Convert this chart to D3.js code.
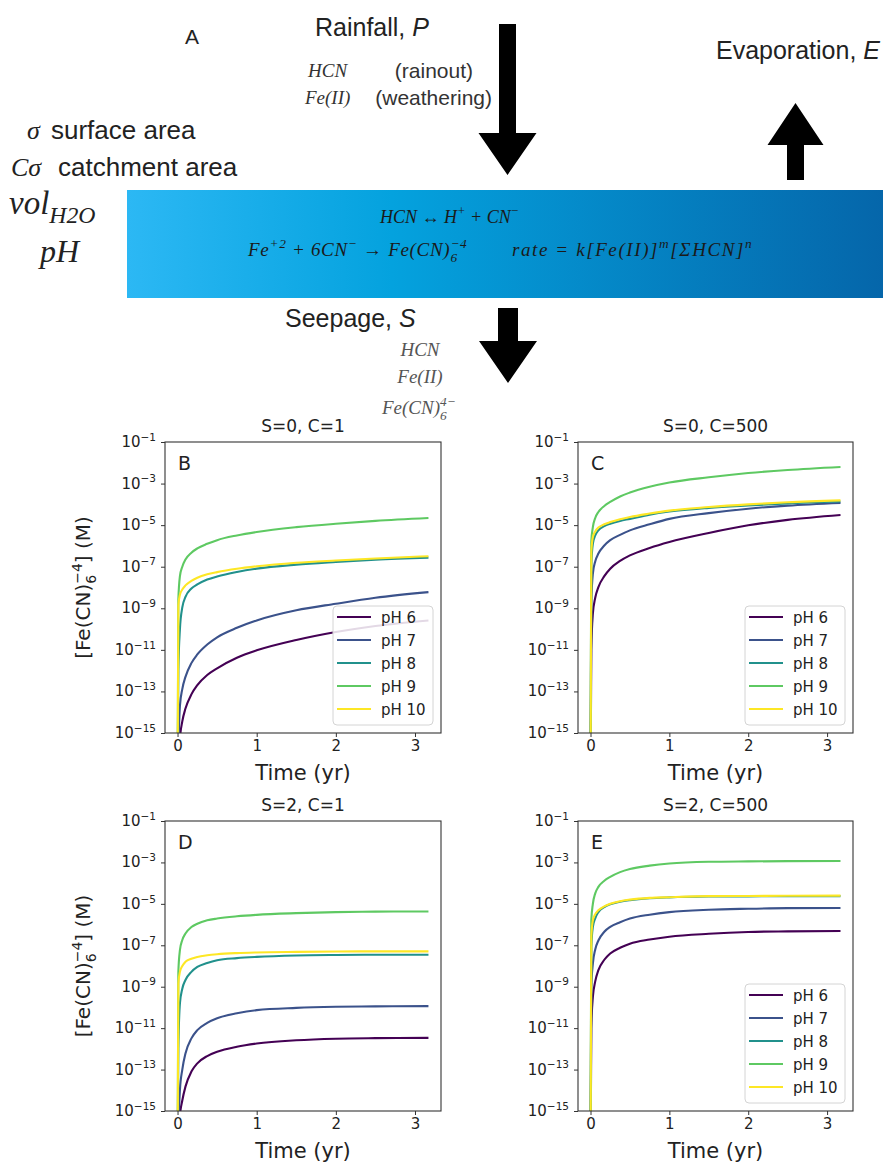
<!DOCTYPE html>
<html><head><meta charset="utf-8">
<script src="https://cdn.jsdelivr.net/npm/d3@7"></script>
<style>body{margin:0;background:#fff}</style>
</head><body>
<svg id="c" width="883" height="1163" xmlns="http://www.w3.org/2000/svg"></svg>
<script>
// ---------- data ----------
const times = [0, 0.01, 0.03, 0.06, 0.1, 0.175, 0.25, 0.375, 0.5, 0.75, 1, 1.5, 2, 2.5, 3.17];
const phLabels = ["pH 6", "pH 7", "pH 8", "pH 9", "pH 10"];
const phColors = ["#440154", "#3b528b", "#21918c", "#5ec962", "#fde725"];
const panelLetters = ["B", "C", "D", "E"];
const panelTitles = ["S=0, C=1", "S=0, C=500", "S=2, C=1", "S=2, C=500"];
const yTickExps = [-1, -3, -5, -7, -9, -11, -13, -15];
const xTicks = [0, 1, 2, 3];

// [Fe(CN)6^-4] (M) per pH (6,7,8,9,10), at the times above
const seriesB = [
  [1e-18, 1e-17, 5e-16, 3.6e-15, 1.5e-14, 7.2e-14, 2e-13, 6.2e-13, 1.3e-12, 4.2e-12, 9.5e-12, 3e-11, 7.2e-11, 1.4e-10, 2.6e-10],
  [1e-18, 1e-16, 2e-14, 1.3e-13, 5e-13, 2.3e-12, 6e-12, 1.8e-11, 4e-11, 1.15e-10, 2.6e-10, 8e-10, 1.65e-9, 3.2e-9, 6e-9],
  [1e-18, 1e-12, 1e-10, 1.1e-9, 3.5e-9, 9e-9, 1.4e-8, 2.4e-8, 3.4e-8, 5.6e-8, 8.1e-8, 1.26e-7, 1.7e-7, 2.2e-7, 2.75e-7],
  [1e-18, 2.5e-9, 3.5e-8, 1e-7, 2.2e-7, 4.7e-7, 7.6e-7, 1.26e-6, 1.9e-6, 3.2e-6, 4.7e-6, 8e-6, 1.17e-5, 1.6e-5, 2.2e-5],
  [1e-18, 1.4e-9, 4.5e-9, 8e-9, 1.26e-8, 2.1e-8, 2.95e-8, 4.3e-8, 5.5e-8, 8e-8, 1.05e-7, 1.55e-7, 2e-7, 2.5e-7, 3.2e-7]
];
const seriesC = [
  [1e-18, 1e-11, 5.5e-10, 3.2e-9, 1.05e-8, 3.5e-8, 8e-8, 1.9e-7, 3.5e-7, 8e-7, 1.55e-6, 4.2e-6, 9.8e-6, 1.8e-5, 3.1e-5],
  [1e-18, 2e-9, 4.7e-8, 1.8e-7, 4.3e-7, 1.05e-6, 1.9e-6, 3.4e-6, 5.6e-6, 1.1e-5, 2e-5, 3.8e-5, 6.2e-5, 8.7e-5, 1.17e-4],
  [1e-18, 1.26e-7, 1.3e-6, 3.2e-6, 5.6e-6, 8.9e-6, 1.17e-5, 1.6e-5, 2e-5, 3.2e-5, 4.5e-5, 6.8e-5, 8.9e-5, 1.12e-4, 1.38e-4],
  [1e-18, 1.6e-6, 8e-6, 2.2e-5, 4.3e-5, 8.3e-5, 1.3e-4, 2.4e-4, 3.7e-4, 7e-4, 1.12e-3, 2e-3, 3.2e-3, 4.5e-3, 6.3e-3],
  [1e-18, 5e-7, 2.7e-6, 5e-6, 7.6e-6, 1.1e-5, 1.4e-5, 1.9e-5, 2.45e-5, 3.6e-5, 5e-5, 7.4e-5, 1e-4, 1.26e-4, 1.55e-4]
];
const seriesD = [
  [1e-18, 1e-17, 6e-16, 3.2e-15, 1.5e-14, 8e-14, 2e-13, 4.5e-13, 7.2e-13, 1.26e-12, 1.8e-12, 2.6e-12, 3.1e-12, 3.3e-12, 3.4e-12],
  [1e-18, 1e-16, 1e-14, 1e-13, 6e-13, 3.2e-12, 8e-12, 1.8e-11, 3e-11, 5.2e-11, 7.4e-11, 9.5e-11, 1.07e-10, 1.12e-10, 1.15e-10],
  [1e-18, 1e-12, 1.55e-10, 8e-10, 2.1e-9, 5.2e-9, 9e-9, 1.4e-8, 1.9e-8, 2.4e-8, 2.75e-8, 3.2e-8, 3.4e-8, 3.5e-8, 3.5e-8],
  [1e-18, 5e-9, 5.8e-8, 1.8e-7, 3.7e-7, 7.6e-7, 1.1e-6, 1.6e-6, 1.95e-6, 2.5e-6, 2.95e-6, 3.55e-6, 4e-6, 4.2e-6, 4.3e-6],
  [1e-18, 1.4e-9, 5.2e-9, 1e-8, 1.6e-8, 2.25e-8, 2.75e-8, 3.3e-8, 3.7e-8, 4.2e-8, 4.5e-8, 4.8e-8, 5e-8, 5.1e-8, 5.1e-8]
];
const seriesE = [
  [1e-18, 1e-11, 3.2e-10, 1.8e-9, 6.3e-9, 2e-8, 4e-8, 7.6e-8, 1.2e-7, 1.9e-7, 2.6e-7, 3.6e-7, 4.4e-7, 4.7e-7, 4.9e-7],
  [1e-18, 1e-9, 1.3e-8, 6.3e-8, 1.7e-7, 4.5e-7, 7.8e-7, 1.3e-6, 1.95e-6, 3e-6, 4e-6, 5.2e-6, 5.8e-6, 6.2e-6, 6.3e-6],
  [1e-18, 8e-8, 7.8e-7, 2e-6, 4e-6, 7e-6, 9.5e-6, 1.26e-5, 1.5e-5, 1.85e-5, 2.05e-5, 2.25e-5, 2.3e-5, 2.35e-5, 2.35e-5],
  [1e-18, 1.6e-6, 1e-5, 3.2e-5, 6.6e-5, 1.3e-4, 2e-4, 3.4e-4, 4.8e-4, 7e-4, 8.9e-4, 1.07e-3, 1.12e-3, 1.15e-3, 1.17e-3],
  [1e-18, 2.5e-7, 1.6e-6, 3.2e-6, 4.9e-6, 7.6e-6, 1e-5, 1.35e-5, 1.6e-5, 1.95e-5, 2.1e-5, 2.35e-5, 2.4e-5, 2.45e-5, 2.5e-5]
];
const allSeries = [seriesB, seriesC, seriesD, seriesE];
const showLegend = [true, true, false, true];
const showYLabel = [true, false, true, false];

// ---------- helpers ----------
const svg = d3.select("#c");
const SANS = "Liberation Sans, Arial, sans-serif";
const SERIF = "Liberation Serif, Times New Roman, serif";
const MPL = "DejaVu Sans, sans-serif";

function rich(g, x, y, parts, o) {
  const size = o.size;
  const t = g.append("text").attr("x", x).attr("y", y)
    .attr("font-family", o.family).attr("font-size", size)
    .attr("font-style", o.italic ? "italic" : "normal")
    .attr("fill", o.fill || "#222")
    .attr("text-anchor", o.anchor || "start");
  if (o.transform) t.attr("transform", o.transform);
  if (o.letterSpacing) t.attr("letter-spacing", o.letterSpacing);
  let cur = 0;
  const fs = size * (o.scriptScale || 0.7);
  const subD = size * (o.subShift || 0.3);
  parts.forEach(p => {
    if (typeof p === "string") {
      t.append("tspan").attr("dy", -cur).text(p); cur = 0;
    } else if (p.sub !== undefined && p.sup !== undefined) {
      const s1 = t.append("tspan").attr("dy", subD - cur).attr("font-size", fs).text(p.sub); cur = subD;
      const w = s1.node().getComputedTextLength();
      const d2 = -size * 0.42;
      t.append("tspan").attr("dx", -w).attr("dy", d2 - cur).attr("font-size", fs).text(p.sup); cur = d2;
    } else if (p.sup !== undefined) {
      const d = -size * 0.42;
      t.append("tspan").attr("dy", d - cur).attr("font-size", fs).text(p.sup); cur = d;
    } else if (p.sub !== undefined) {
      t.append("tspan").attr("dy", subD - cur).attr("font-size", fs).text(p.sub); cur = subD;
    }
  });
  return t;
}
function label(g, x, y, size, parts, anchor, family) {
  const t = g.append("text").attr("x", x).attr("y", y).attr("font-family", family || SANS)
    .attr("font-size", size).attr("fill", "#222").attr("text-anchor", anchor || "start");
  parts.forEach(p => {
    const s = t.append("tspan").text(p.t);
    if (p.i) s.attr("font-style", "italic");
    if (p.f) s.attr("font-family", p.f);
  });
  return t;
}

// ---------- diagram (panel A) ----------
const defs = svg.append("defs");
const grad = defs.append("linearGradient").attr("id", "pond").attr("x1", "0").attr("x2", "1").attr("y1", "0").attr("y2", "0");
grad.append("stop").attr("offset", "0%").attr("stop-color", "#2cb8f4");
grad.append("stop").attr("offset", "35%").attr("stop-color", "#04a2de");
grad.append("stop").attr("offset", "100%").attr("stop-color", "#0566aa");

const A = svg.append("g");
A.append("rect").attr("x", 127).attr("y", 190).attr("width", 756).attr("height", 108).attr("fill", "url(#pond)");

A.append("text").attr("x", 192).attr("y", 44).attr("font-family", SANS).attr("font-size", 21).attr("text-anchor", "middle").attr("fill", "#222").text("A");

label(A, 315, 36, 25, [{t: "Rainfall, "}, {t: "P", i: true}]);
label(A, 880, 59, 25, [{t: "Evaporation, "}, {t: "E", i: true}], "end");
label(A, 285, 327, 25, [{t: "Seepage, "}, {t: "S", i: true}]);

A.append("text").attr("x", 308).attr("y", 77).attr("font-family", SERIF).attr("font-size", 19).attr("font-style", "italic").attr("fill", "#333").text("HCN");
A.append("text").attr("x", 305).attr("y", 104).attr("font-family", SERIF).attr("font-size", 19).attr("font-style", "italic").attr("fill", "#333").text("Fe(II)");
A.append("text").attr("x", 473).attr("y", 78).attr("font-family", SANS).attr("font-size", 21).attr("text-anchor", "end").attr("fill", "#333").text("(rainout)");
A.append("text").attr("x", 492).attr("y", 105).attr("font-family", SANS).attr("font-size", 21).attr("text-anchor", "end").attr("fill", "#333").text("(weathering)");

// sigma lines
A.append("text").attr("x", 27).attr("y", 139).attr("font-family", SERIF).attr("font-size", 26).attr("font-style", "italic").attr("fill", "#222").text("σ");
A.append("text").attr("x", 51).attr("y", 139).attr("font-family", SANS).attr("font-size", 26).attr("fill", "#222").text("surface area");
A.append("text").attr("x", 11).attr("y", 176).attr("font-family", SERIF).attr("font-size", 26).attr("font-style", "italic").attr("fill", "#222").text("Cσ");
A.append("text").attr("x", 58).attr("y", 176).attr("font-family", SANS).attr("font-size", 26).attr("fill", "#222").text("catchment area");

// vol / pH
rich(A, 9, 214, ["vol", {sub: "H2O"}], {size: 33, family: SERIF, italic: true, scriptScale: 0.72, subShift: 0.27});
A.append("text").attr("x", 40).attr("y", 262).attr("font-family", SERIF).attr("font-size", 32).attr("font-style", "italic").attr("fill", "#222").text("pH");

// equations
rich(A, 380, 223, ["HCN ↔ H", {sup: "+"}, " + CN", {sup: "−"}], {size: 18, family: SERIF, italic: true, fill: "#1a1a1a"});
rich(A, 248, 256, ["Fe", {sup: "+2"}, " + 6CN", {sup: "−"}, " → Fe(CN)", {sub: "6", sup: "−4"}], {size: 19, family: SERIF, italic: true, fill: "#1a1a1a", letterSpacing: 0.7});
rich(A, 512, 256, ["rate = k[Fe(II)]", {sup: "m"}, "[ΣHCN]", {sup: "n"}], {size: 19, family: SERIF, italic: true, fill: "#1a1a1a", letterSpacing: 1.6});

// seepage species
A.append("text").attr("x", 420).attr("y", 356).attr("font-family", SERIF).attr("font-size", 19).attr("font-style", "italic").attr("text-anchor", "middle").attr("fill", "#555").text("HCN");
A.append("text").attr("x", 420).attr("y", 383).attr("font-family", SERIF).attr("font-size", 19).attr("font-style", "italic").attr("text-anchor", "middle").attr("fill", "#555").text("Fe(II)");
rich(A, 382, 414, ["Fe(CN)", {sub: "6", sup: "4−"}], {size: 19, family: SERIF, italic: true, fill: "#555"});

// arrows
const arrowDown = (cx, y0, yb, yt, sw, hw) => `M${cx - sw / 2},${y0} L${cx + sw / 2},${y0} L${cx + sw / 2},${yb} L${cx + hw / 2},${yb} L${cx},${yt} L${cx - hw / 2},${yb} L${cx - sw / 2},${yb} Z`;
A.append("path").attr("d", arrowDown(507.5, 24, 133, 175, 17, 58)).attr("fill", "#000");
A.append("path").attr("d", arrowDown(508, 308, 341, 383, 20, 58)).attr("fill", "#000");
A.append("path").attr("d", arrowDown(795.5, 180, 145, 103, 17, 56)).attr("fill", "#000");

// ---------- plots ----------
const boxes = [
  {l: 165, r: 441, t: 442, b: 733},
  {l: 578, r: 853, t: 442, b: 733},
  {l: 165, r: 441, t: 821, b: 1111},
  {l: 578, r: 853, t: 821, b: 1111}
];
const tMax = d3.max(times);
const pad = tMax * 0.05;

allSeries.forEach((series, i) => {
  const bx = boxes[i];
  const g = svg.append("g");
  const x = d3.scaleLinear().domain([-pad, tMax + pad]).range([bx.l, bx.r]);
  const y = d3.scaleLog().domain([1e-15, 1e-1]).range([bx.b, bx.t]);

  defs.append("clipPath").attr("id", "clip" + i).append("rect")
    .attr("x", bx.l).attr("y", bx.t).attr("width", bx.r - bx.l).attr("height", bx.b - bx.t);

  const line = d3.line().x((d, k) => x(times[k])).y(d => y(d)).curve(d3.curveMonotoneX);
  const lg = g.append("g").attr("clip-path", `url(#clip${i})`);
  series.forEach((s, k) => {
    lg.append("path").attr("d", line(s)).attr("fill", "none")
      .attr("stroke", phColors[k]).attr("stroke-width", 2.1).attr("stroke-linejoin", "round");
  });

  // frame
  g.append("rect").attr("x", bx.l).attr("y", bx.t).attr("width", bx.r - bx.l).attr("height", bx.b - bx.t)
    .attr("fill", "none").attr("stroke", "#333").attr("stroke-width", 1.1);

  // x axis
  const xa = g.append("g").attr("transform", `translate(0,${bx.b})`)
    .call(d3.axisBottom(x).tickValues(xTicks).tickSize(4).tickPadding(3).tickFormat(d3.format("d")));
  xa.select(".domain").remove();
  xa.selectAll("line").attr("stroke", "#333");
  xa.selectAll("text").attr("font-family", MPL).attr("font-size", 15).attr("fill", "#222");

  // y axis
  const ya = g.append("g").attr("transform", `translate(${bx.l},0)`)
    .call(d3.axisLeft(y).tickValues(yTickExps.map(e => Math.pow(10, e))).tickSize(4).tickFormat(""));
  ya.select(".domain").remove();
  ya.selectAll("line").attr("stroke", "#333");
  yTickExps.forEach(e => {
    rich(g, bx.l - 9, y(Math.pow(10, e)) + 5, ["10", {sup: "−" + Math.abs(e)}], {size: 15, family: MPL, fill: "#222", anchor: "end"});
  });

  // titles and labels
  g.append("text").attr("x", (bx.l + bx.r) / 2).attr("y", bx.t - 10).attr("text-anchor", "middle")
    .attr("font-family", MPL).attr("font-size", 17).attr("fill", "#222").text(panelTitles[i]);
  g.append("text").attr("x", (bx.l + bx.r) / 2).attr("y", bx.b + 47).attr("text-anchor", "middle")
    .attr("font-family", MPL).attr("font-size", 21).attr("fill", "#222").text("Time (yr)");
  g.append("text").attr("x", bx.l + 13).attr("y", bx.t + 28)
    .attr("font-family", MPL).attr("font-size", 19).attr("fill", "#222").text(panelLetters[i]);
  if (showYLabel[i]) {
    const cy = (bx.t + bx.b) / 2;
    rich(g, 0, 0, ["[Fe(CN)", {sub: "6", sup: "−4"}, "] (M)"], {size: 20, family: MPL, fill: "#222", anchor: "middle",
      transform: `translate(90,${cy}) rotate(-90)`});
  }

  // legend
  if (showLegend[i]) {
    const w = 100, h = 119;
    const lx = bx.r - 8 - w, ly = bx.b - 8 - h;
    const leg = g.append("g").attr("transform", `translate(${lx},${ly})`);
    leg.append("rect").attr("width", w).attr("height", h).attr("rx", 4)
      .attr("fill", "#fff").attr("fill-opacity", 0.85).attr("stroke", "#d4d4d4");
    phLabels.forEach((lab, k) => {
      const yy = 11 + k * 23;
      leg.append("line").attr("x1", 4).attr("x2", 38).attr("y1", yy).attr("y2", yy)
        .attr("stroke", phColors[k]).attr("stroke-width", 2.1);
      leg.append("text").attr("x", 48).attr("y", yy + 5.5).attr("font-family", MPL).attr("font-size", 15)
        .attr("fill", "#222").text(lab);
    });
  }
});
</script>
</body></html>
